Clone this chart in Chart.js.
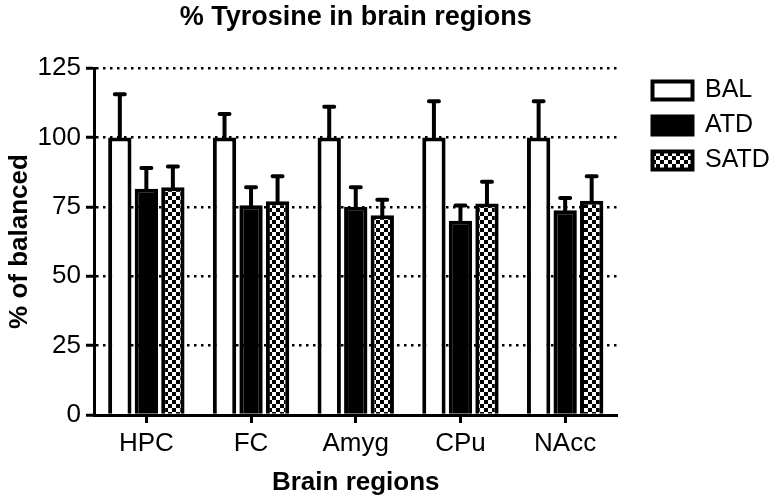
<!DOCTYPE html>
<html>
<head>
<meta charset="utf-8">
<script src="https://cdn.jsdelivr.net/npm/chart.js@4"></script>
<style>
  html, body { margin: 0; padding: 0; background: #fff; }
  #wrap { width: 784px; height: 501px; }
</style>
</head>
<body>
<div id="wrap"><canvas id="c" width="784" height="501"></canvas></div>
<script>
// ---- data ----
const categories = ['HPC', 'FC', 'Amyg', 'CPu', 'NAcc'];
const seriesNames = ['BAL', 'ATD', 'SATD'];
const balValues  = [100, 100, 100, 100, 100];
const atdValues  = [81.5, 75.6, 75.0, 70.0, 73.8];
const satdValues = [82.0, 77.0, 72.0, 76.2, 77.2];
const balErrors  = [15.5, 8.4, 11.0, 13.0, 13.0];
const atdErrors  = [7.5, 6.4, 7.0, 5.5, 4.4];
const satdErrors = [7.5, 9.0, 5.5, 7.8, 8.8];
const yTicks = [0, 25, 50, 75, 100, 125];

// ---- checkerboard pattern ----
function checker() {
  const c = document.createElement('canvas');
  c.width = 8; c.height = 8;
  const g = c.getContext('2d');
  g.fillStyle = '#000'; g.fillRect(0, 0, 8, 8);
  g.fillStyle = '#fff'; g.fillRect(0, 0, 4, 4); g.fillRect(4, 4, 4, 4);
  return g.createPattern(c, 'repeat');
}
const ctx = document.getElementById('c').getContext('2d');
const pattern = checker();

const FONT = "'Liberation Sans', Arial, Helvetica, sans-serif";

const errorBars = {
  id: 'errorBars',
  afterDatasetsDraw(chart) {
    const c = chart.ctx, ys = chart.scales.y;
    chart.data.datasets.forEach((ds, i) => {
      const meta = chart.getDatasetMeta(i);
      if (meta.hidden) return;
      meta.data.forEach((bar, j) => {
        const top = ys.getPixelForValue(ds.data[j] + ds.errors[j]);
        c.save();
        c.strokeStyle = '#000';
        c.lineWidth = 4;
        c.lineCap = 'round';
        c.beginPath();
        c.moveTo(bar.x, bar.y);
        c.lineTo(bar.x, top);
        c.moveTo(bar.x - 5, top);
        c.lineTo(bar.x + 5, top);
        c.stroke();
        c.restore();
      });
    });
  }
};

new Chart(ctx, {
  type: 'bar',
  data: {
    labels: categories,
    datasets: [
      { label: seriesNames[0], data: balValues, errors: balErrors, backgroundColor: '#fff', borderColor: '#000', borderWidth: 4 },
      { label: seriesNames[1], data: atdValues, errors: atdErrors, backgroundColor: '#000', borderColor: '#000', borderWidth: 4 },
      { label: seriesNames[2], data: satdValues, errors: satdErrors, backgroundColor: pattern, borderColor: '#000', borderWidth: 4 }
    ]
  },
  options: {
    responsive: false,
    animation: false,
    devicePixelRatio: 1,
    layout: { padding: { left: 0, right: 13, top: 0, bottom: 0 } },
    datasets: { bar: { categoryPercentage: 0.76, barPercentage: 0.88 } },
    plugins: {
      title: {
        display: true,
        text: '% Tyrosine in brain regions',
        color: '#000',
        fullSize: false,
        font: { family: FONT, size: 27, weight: 'bold' },
        padding: { top: 1, bottom: 34.6 }
      },
      legend: {
        position: 'right',
        align: 'start',
        fullSize: false,
        labels: {
          color: '#000',
          boxWidth: 40,
          boxHeight: 18,
          padding: 10,
          font: { family: FONT, size: 25 }
        }
      },
      tooltip: { enabled: false }
    },
    scales: {
      x: {
        grid: { display: true, drawOnChartArea: false, drawTicks: true, offset: false, tickLength: 8, tickWidth: 3, tickColor: '#000', color: '#000' },
        border: { display: true, color: '#000', width: 3 },
        ticks: { color: '#000', padding: 5, font: { family: FONT, size: 26 } },
        title: { display: true, text: 'Brain regions', color: '#000', font: { family: FONT, size: 26, weight: 'bold' }, padding: { top: 0, bottom: 3 } },
        afterFit(s) { s.height = 86; }
      },
      y: {
        min: 0, max: 125,
        afterBuildTicks(s) { s.ticks = yTicks.map(v => ({ value: v })); },
        grid: { display: true, color: '#000', lineWidth: 2.5, drawTicks: true, tickLength: 8, tickWidth: 3, tickColor: '#000' },
        border: { display: true, color: '#000', width: 3, dash: [2.5, 4.5] },
        ticks: { color: '#000', padding: 5, font: { family: FONT, size: 26 } },
        title: { display: true, text: '% of balanced', color: '#000', font: { family: FONT, size: 26, weight: 'bold' }, padding: { top: 4, bottom: 0 } },
        afterFit(s) { s.width = 94; }
      },
      yR: {
        type: 'linear',
        position: 'right',
        display: true,
        grid: { display: false, drawTicks: false },
        border: { display: false },
        ticks: { display: false },
        afterFit(s) { s.width = 25; }
      }
    }
  },
  plugins: [errorBars]
});
</script>
</body>
</html>
